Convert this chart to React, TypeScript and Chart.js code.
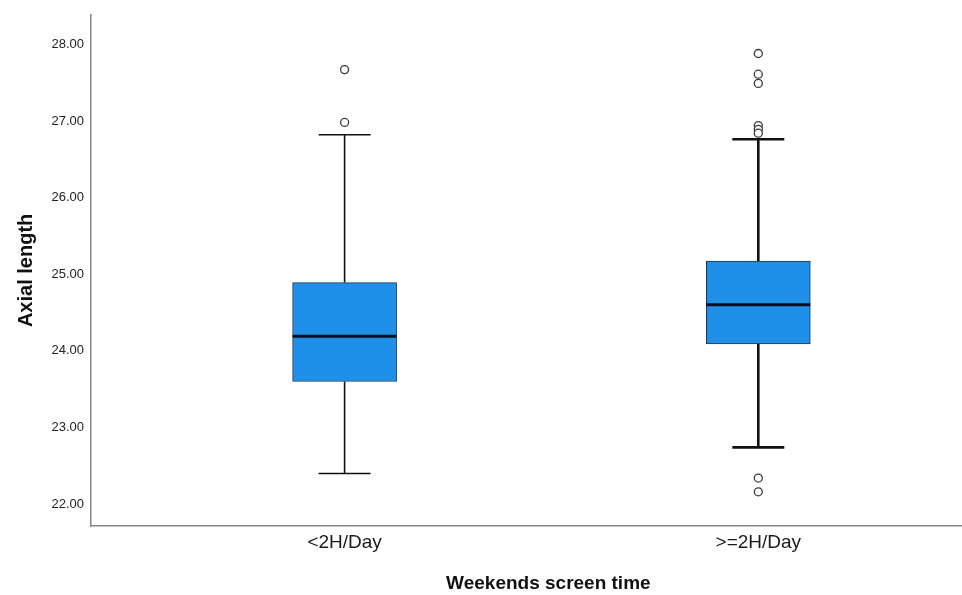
import React, { useEffect, useRef } from 'react';
import { Chart, registerables } from 'chart.js';

Chart.register(...registerables);

// ---- data ----
const CATEGORIES = ['<2H/Day', '>=2H/Day'];
const Q1 = [23.6, 24.09];
const MEDIAN = [24.19, 24.6];
const Q3 = [24.89, 25.17];
const WHISKER_LOW = [22.4, 22.74];
const WHISKER_HIGH = [26.82, 26.76];
const OUTLIERS_LT2 = [27.67, 26.98];
const OUTLIERS_GE2 = [27.88, 27.61, 27.49, 26.94, 26.89, 26.84, 22.34, 22.16];
const Y_TICKS = [22, 23, 24, 25, 26, 27, 28];
const X_TITLE = 'Weekends screen time';
const Y_TITLE = 'Axial length';

// ---- axis ranges / styles ----
const Y_MIN = 21.714;
const Y_MAX = 28.385;
const X_MIN = 0.387;
const X_MAX = 2.598;
const FONT = "'Liberation Sans', Arial, sans-serif";
const BOX_FILL = '#1f8fe8';
const BOX_BORDER = '#1d3552';
const MEDIAN_COLOR = '#0a0d26';
const WHISKER_COLOR = '#111111';
const WHISKER_WIDTHS = [1.6, 2.6];
const AXIS_COLOR = '#858585';

const boxPlugin = {
  id: 'boxWhiskers',
  beforeDatasetsDraw(chart: any) {
    const { ctx, scales } = chart;
    const x = scales.x;
    const y = scales.y;
    const meta = chart.getDatasetMeta(0);
    ctx.save();
    ctx.strokeStyle = WHISKER_COLOR;
    ctx.lineCap = 'butt';
    CATEGORIES.forEach((_, i) => {
      const bar = meta.data[i];
      const cx = x.getPixelForValue(i + 1);
      const half = bar ? bar.width / 4 : 26;
      const yHi = y.getPixelForValue(WHISKER_HIGH[i]);
      const yLo = y.getPixelForValue(WHISKER_LOW[i]);
      const yQ3 = y.getPixelForValue(Q3[i]);
      const yQ1 = y.getPixelForValue(Q1[i]);
      ctx.lineWidth = WHISKER_WIDTHS[i];
      ctx.beginPath();
      ctx.moveTo(cx, yQ3);
      ctx.lineTo(cx, yHi);
      ctx.moveTo(cx, yQ1);
      ctx.lineTo(cx, yLo);
      ctx.moveTo(cx - half, yHi);
      ctx.lineTo(cx + half, yHi);
      ctx.moveTo(cx - half, yLo);
      ctx.lineTo(cx + half, yLo);
      ctx.stroke();
    });
    ctx.restore();
  },
  afterDatasetsDraw(chart: any) {
    const { ctx, scales } = chart;
    const y = scales.y;
    const meta = chart.getDatasetMeta(0);
    ctx.save();
    ctx.strokeStyle = MEDIAN_COLOR;
    ctx.lineWidth = 3;
    CATEGORIES.forEach((_, i) => {
      const bar = meta.data[i];
      if (!bar) return;
      const ym = y.getPixelForValue(MEDIAN[i]);
      ctx.beginPath();
      ctx.moveTo(bar.x - bar.width / 2, ym);
      ctx.lineTo(bar.x + bar.width / 2, ym);
      ctx.stroke();
    });
    ctx.restore();
  },
};

export default function App() {
  const canvasRef = useRef<HTMLCanvasElement | null>(null);

  useEffect(() => {
    document.body.style.margin = '0';
    const canvas = canvasRef.current;
    if (!canvas) return;
    const outliers = [
      ...OUTLIERS_LT2.map((v) => ({ x: 1, y: v })),
      ...OUTLIERS_GE2.map((v) => ({ x: 2, y: v })),
    ];
    const chart = new Chart(canvas, {
      type: 'bar',
      data: {
        datasets: [
          {
            type: 'bar',
            data: CATEGORIES.map((_, i) => ({ x: i + 1, y: [Q1[i], Q3[i]] })) as any,
            backgroundColor: BOX_FILL,
            borderColor: BOX_BORDER,
            borderWidth: 1,
            borderSkipped: false,
            barThickness: 104,
          } as any,
          {
            type: 'scatter',
            data: outliers,
            pointRadius: 4,
            pointBorderWidth: 1.3,
            borderColor: '#3a3a3a',
            backgroundColor: '#ffffff',
            showLine: false,
          } as any,
        ],
      },
      options: {
        animation: false,
        responsive: false,
        events: [],
        layout: { padding: { top: 12, left: 0, right: 0, bottom: 0 } },
        plugins: {
          legend: { display: false },
          tooltip: { enabled: false },
        },
        scales: {
          x: {
            type: 'linear',
            min: X_MIN,
            max: X_MAX,
            offset: false,
            grid: { display: false, drawTicks: false, offset: false },
            border: { display: true, color: AXIS_COLOR, width: 1.5 },
            afterBuildTicks: (s: any) => {
              s.ticks = CATEGORIES.map((_, i) => ({ value: i + 1 }));
            },
            afterFit: (s: any) => {
              s.height = 69;
            },
            ticks: {
              callback: (v: any) => CATEGORIES[Math.round(Number(v)) - 1] ?? '',
              font: { family: FONT, size: 19 },
              color: '#1a1a1a',
              padding: 5,
              maxRotation: 0,
              autoSkip: false,
            },
            title: {
              display: true,
              text: X_TITLE,
              font: { family: FONT, size: 19, weight: 'bold' },
              color: '#111111',
              padding: { top: 0, bottom: 0 },
            },
          },
          y: {
            type: 'linear',
            min: Y_MIN,
            max: Y_MAX,
            grid: { display: false, drawTicks: false },
            border: { display: true, color: AXIS_COLOR, width: 1.5 },
            afterBuildTicks: (s: any) => {
              s.ticks = Y_TICKS.map((v) => ({ value: v }));
            },
            afterFit: (s: any) => {
              s.width = 91;
            },
            ticks: {
              callback: (v: any) => Number(v).toFixed(2),
              font: { family: FONT, size: 13 },
              color: '#222222',
              padding: 7,
            },
            title: {
              display: true,
              text: Y_TITLE,
              font: { family: FONT, size: 20, weight: 'bold' },
              color: '#111111',
              padding: { top: 14, bottom: 0 },
            },
          },
        },
      } as any,
      plugins: [boxPlugin],
    });
    return () => {
      chart.destroy();
    };
  }, []);

  return (
    <div style={{ width: 962, height: 595, overflow: 'hidden', background: '#ffffff' }}>
      <canvas ref={canvasRef} width={1011} height={595} style={{ display: 'block' }} />
    </div>
  );
}
